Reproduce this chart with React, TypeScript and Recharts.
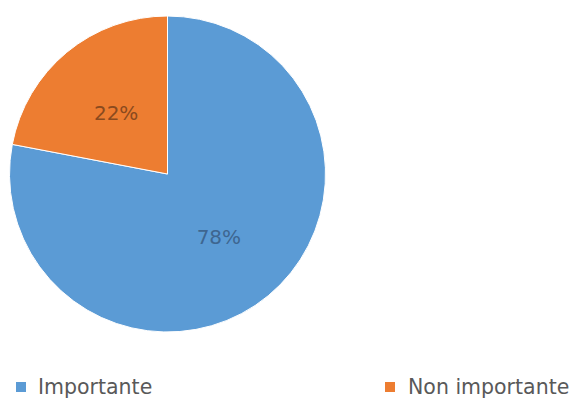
import React from "react";
import { PieChart, Pie, Cell, Legend } from "recharts";

const categories = ["Importante", "Non importante"];
const values = [78, 22];
const colors = ["#5B9BD5", "#ED7D31"];
const labelColors = ["#3E6690", "#8A4A1E"];

const data = categories.map((name, i) => ({ name, value: values[i] }));

const RAD = Math.PI / 180;
const FONT = "'DejaVu Sans', Verdana, sans-serif";

const renderLabel = (props: any) => {
  const { cx, cy, midAngle, outerRadius, value, index } = props;
  const r = outerRadius * 0.51;
  const x = cx + r * Math.cos(-midAngle * RAD);
  const y = cy + r * Math.sin(-midAngle * RAD) + 1;
  return (
    <text
      x={x}
      y={y}
      fill={labelColors[index]}
      textAnchor="middle"
      dominantBaseline="central"
      fontSize={20}
      fontFamily={FONT}
    >
      {`${value}%`}
    </text>
  );
};

const renderLegend = (props: any) => {
  const { payload } = props;
  const lefts = [16, 385];
  return (
    <div style={{ position: "relative", width: 572, height: 30 }}>
      {(payload || []).map((entry: any, i: number) => (
        <div
          key={entry.value}
          style={{
            position: "absolute",
            left: lefts[i],
            top: 0,
            display: "flex",
            alignItems: "center",
            fontFamily: FONT,
            fontSize: 20.5,
            color: "#595959",
            whiteSpace: "nowrap",
          }}
        >
          <span
            style={{
              display: "inline-block",
              width: 10,
              height: 10,
              background: entry.color,
              marginRight: i === 0 ? 12 : 13,
            }}
          />
          {entry.value}
        </div>
      ))}
    </div>
  );
};

export default function App() {
  return (
    <div style={{ position: "absolute", left: 0, top: 0, width: 572, height: 404, background: "#fff" }}>
      <PieChart width={572} height={404} margin={{ top: 0, right: 0, bottom: 0, left: 0 }}>
        <Pie
          data={data}
          dataKey="value"
          nameKey="name"
          cx={167.5}
          cy={174}
          outerRadius={158}
          startAngle={90}
          endAngle={-270}
          stroke="#ffffff"
          strokeWidth={1}
          label={renderLabel}
          labelLine={false}
          isAnimationActive={false}
        >
          {data.map((d, i) => (
            <Cell key={d.name} fill={colors[i]} />
          ))}
        </Pie>
        <Legend
          content={renderLegend}
          wrapperStyle={{ position: "absolute", left: 0, top: 375, width: 572 }}
        />
      </PieChart>
    </div>
  );
}
